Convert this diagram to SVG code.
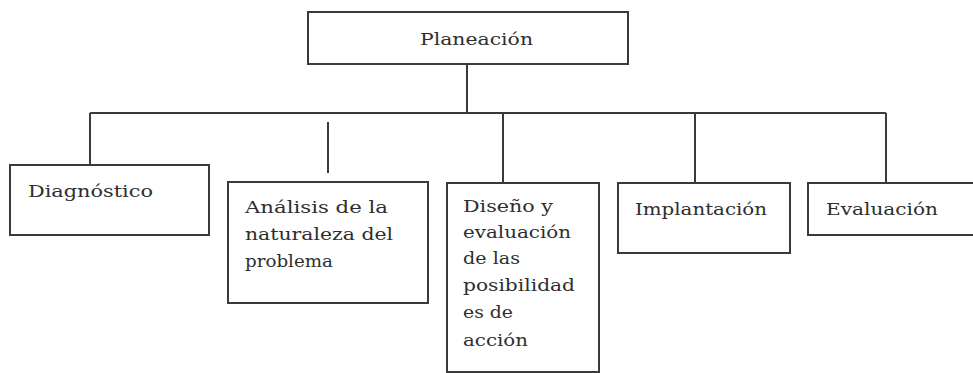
<svg xmlns="http://www.w3.org/2000/svg" width="973" height="373" viewBox="0 0 973 373">
<style>
.box{fill:#fff;stroke:#3a3a3a;stroke-width:2}
.ln{stroke:#3a3a3a;stroke-width:2;fill:none}
text{font-family:"DejaVu Serif","Liberation Serif",serif;font-size:17px;fill:#2e2e2e}
</style>
<rect width="973" height="373" fill="#fff"/>
<g id="connectors">
<line class="ln" x1="467" y1="64" x2="467" y2="113"/>
<line class="ln" x1="90" y1="113" x2="886" y2="113"/>
<line class="ln" x1="90" y1="113" x2="90" y2="165"/>
<line class="ln" x1="328" y1="122" x2="328" y2="173"/>
<line class="ln" x1="503" y1="113" x2="503" y2="183"/>
<line class="ln" x1="695" y1="113" x2="695" y2="183"/>
<line class="ln" x1="886" y1="113" x2="886" y2="183"/>
</g>
<g id="planeacion">
<rect class="box" x="308" y="12" width="320" height="52"/>
<text x="420" y="45" textLength="113" lengthAdjust="spacingAndGlyphs">Planeación</text>
</g>
<g id="diagnostico">
<rect class="box" x="10" y="165" width="199" height="70"/>
<text x="28" y="197" textLength="125" lengthAdjust="spacingAndGlyphs">Diagnóstico</text>
</g>
<g id="analisis">
<rect class="box" x="228" y="182" width="200" height="121"/>
<text x="245" y="213" textLength="143" lengthAdjust="spacingAndGlyphs">Análisis de la</text>
<text x="245" y="240" textLength="148" lengthAdjust="spacingAndGlyphs">naturaleza del</text>
<text x="245" y="267" textLength="88" lengthAdjust="spacingAndGlyphs">problema</text>
</g>
<g id="diseno">
<rect class="box" x="447" y="183" width="152" height="189"/>
<text x="463" y="212" textLength="90" lengthAdjust="spacingAndGlyphs">Diseño y</text>
<text x="463" y="238" textLength="108" lengthAdjust="spacingAndGlyphs">evaluación</text>
<text x="463" y="264" textLength="57" lengthAdjust="spacingAndGlyphs">de las</text>
<text x="463" y="291" textLength="112" lengthAdjust="spacingAndGlyphs">posibilidad</text>
<text x="463" y="318" textLength="50" lengthAdjust="spacingAndGlyphs">es de</text>
<text x="463" y="346" textLength="65" lengthAdjust="spacingAndGlyphs">acción</text>
</g>
<g id="implantacion">
<rect class="box" x="618" y="183" width="172" height="70"/>
<text x="635" y="215" textLength="132" lengthAdjust="spacingAndGlyphs">Implantación</text>
</g>
<g id="evaluacion">
<rect class="box" x="808" y="183" width="170" height="52"/>
<text x="826" y="215" textLength="112" lengthAdjust="spacingAndGlyphs">Evaluación</text>
</g>
</svg>
